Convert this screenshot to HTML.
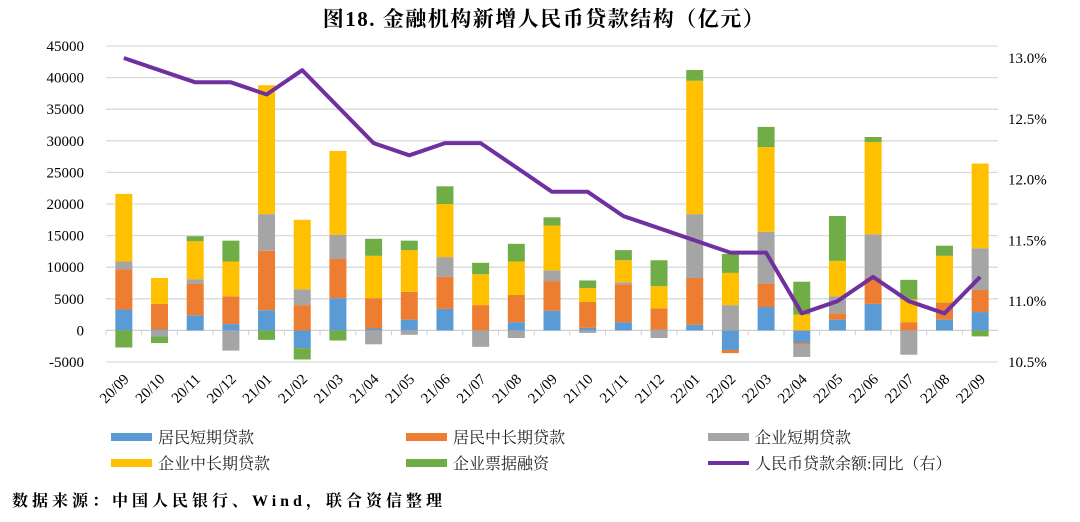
<!DOCTYPE html>
<html><head><meta charset="utf-8">
<style>
body{margin:0;background:#fff;width:1080px;height:517px;overflow:hidden;font-family:"Liberation Serif","Noto Serif CJK SC",serif;}
svg text{font-family:"Liberation Serif","Noto Serif CJK SC",serif;}
</style></head>
<body>
<svg id="chart" width="1080" height="517" xmlns="http://www.w3.org/2000/svg">
<text x="544" y="26" text-anchor="middle" font-size="21" font-weight="bold" fill="#000" letter-spacing="1.5" style="font-family:'Liberation Serif','Noto Serif CJK SC',serif">图18.  金融机构新增人民币贷款结构（亿元）</text>
<g id="grid"></g>
<g id="bars"></g>
<g id="line"></g>
<g id="axes"></g>
<g id="legend"></g>
<text x="12" y="506" font-size="16" font-weight="bold" fill="#000" letter-spacing="4">数据来源：中国人民银行、Wind，联合资信整理</text>
</svg>
<script>
const categories=["20/09","20/10","20/11","20/12","21/01","21/02","21/03","21/04","21/05","21/06","21/07","21/08","21/09","21/10","21/11","21/12","22/01","22/02","22/03","22/04","22/05","22/06","22/07","22/08","22/09"];
const householdShort=[3300,150,2400,1000,3200,-2800,5100,300,1700,3400,0,1300,3100,400,1300,100,900,-3100,3700,-2000,1700,4200,0,1700,2900];
const householdLong=[6350,4050,5000,4400,9400,4000,6200,4800,4400,5100,4000,4300,4700,4100,6000,3400,7400,-500,3700,-250,1000,4100,1300,2700,3500];
const corpShort=[1250,-950,700,-3200,5800,2500,3800,-2200,-700,3100,-2600,-1200,1700,-400,300,-1200,10100,4000,8200,-1950,2700,6900,-3850,0,6600];
const corpLong=[10700,4100,6000,5500,20400,11000,13300,6700,6600,8400,4900,5300,7100,2200,3500,3500,21100,5100,13400,2500,5600,14600,3600,7400,13400];
const billFinance=[-2700,-1050,800,3300,-1500,-1800,-1600,2700,1500,2800,1800,2800,1300,1200,1600,4100,1700,3000,3200,5200,7100,800,3100,1600,-950];
const yoyGrowth=[13.0,12.9,12.8,12.8,12.7,12.9,12.6,12.3,12.2,12.3,12.3,12.1,11.9,11.9,11.7,11.6,11.5,11.4,11.4,10.9,11.0,11.2,11.0,10.9,11.2];
const leftTicks=[-5000,0,5000,10000,15000,20000,25000,30000,35000,40000,45000];
const rightTicks=[10.5,11.0,11.5,12.0,12.5,13.0];
const seriesNames=["居民短期贷款","居民中长期贷款","企业短期贷款","企业中长期贷款","企业票据融资"];
const seriesKeys=["household-short","household-long","corp-short","corp-long","bill-finance"];
const colors=["#5b9bd5","#ed7d31","#a5a5a5","#ffc000","#70ad47"];
const series=[householdShort,householdLong,corpShort,corpLong,billFinance];

const NS="http://www.w3.org/2000/svg";
const X0=106,X1=998,YT=46,YB=362;
const yL=v=>YB-(v+5000)/50000*(YB-YT);
const yRight=v=>362-(v-10.5)*121.6;
const band=(X1-X0)/categories.length;
const xC=i=>X0+band*(i+0.5);
function mk(tag,attrs,parent){const e=document.createElementNS(NS,tag);for(const k in attrs)e.setAttribute(k,attrs[k]);parent.appendChild(e);return e;}
const grid=document.getElementById('grid'),bars=document.getElementById('bars'),line=document.getElementById('line'),axes=document.getElementById('axes'),legend=document.getElementById('legend');

leftTicks.forEach(t=>{
  const g=mk('line',{x1:X0,x2:X1,y1:yL(t),y2:yL(t),stroke:t===0?'#d0d0d0':'#d9d9d9','stroke-width':1.3},grid);
  
  
  const tx=mk('text',{x:84,y:yL(t)+5,'text-anchor':'end','font-size':15,fill:'#000'},axes);
  tx.textContent=t;
  
  
});
rightTicks.forEach(t=>{
  const tx=mk('text',{x:1008,y:yRight(t)+5,'font-size':15,fill:'#000'},axes);
  tx.textContent=t.toFixed(1)+'%';
  
  
});
categories.forEach((c,i)=>{
  const tk=mk('line',{x1:X0+band*i,x2:X0+band*i,y1:yL(0),y2:yL(0)+5,stroke:'#d0d0d0'},axes);
  
  
  const x=xC(i)+6,y=380;
  const tx=mk('text',{x:x,y:y,'text-anchor':'end','font-size':15,fill:'#000',transform:`rotate(-45 ${x} ${y})`},axes);
  tx.textContent=c;
  
  
  let pos=0,neg=0;
  series.forEach((s,k)=>{
    const v=s[i];if(!v)return;
    let a,b;
    if(v>0){a=pos;b=pos+v;pos=b;}else{a=neg;b=neg+v;neg=b;}
    const y1=Math.min(yL(a),yL(b)),h=Math.abs(yL(a)-yL(b));
    const r=mk('rect',{x:xC(i)-8.5,y:y1,width:17,height:h,fill:colors[k]},bars);
    
    
  });
});
const pts=yoyGrowth.map((v,i)=>xC(i).toFixed(1)+','+yRight(v).toFixed(1)).join(' ');
const pl=mk('polyline',{points:pts,fill:'none',stroke:'#7030a0','stroke-width':4,'stroke-linejoin':'round'},line);



const legendItems=[[111,437,0],[406,437,1],[708,437,2],[111,463,3],[406,463,4],[708,463,5]];
legendItems.forEach(([x,y,k])=>{
  const g=mk('g',{},legend);
  
  
  if(k<5){mk('rect',{x:x,y:y-4,width:41,height:8,fill:colors[k]},g);}
  else{mk('line',{x1:x,x2:x+41,y1:y,y2:y,stroke:'#7030a0','stroke-width':4},g);}
  const t=mk('text',{x:x+47,y:y+6,'font-size':16,fill:'#222'},g);
  t.textContent=k<5?seriesNames[k]:'人民币贷款余额:同比（右）';
});
</script>
</body></html>
